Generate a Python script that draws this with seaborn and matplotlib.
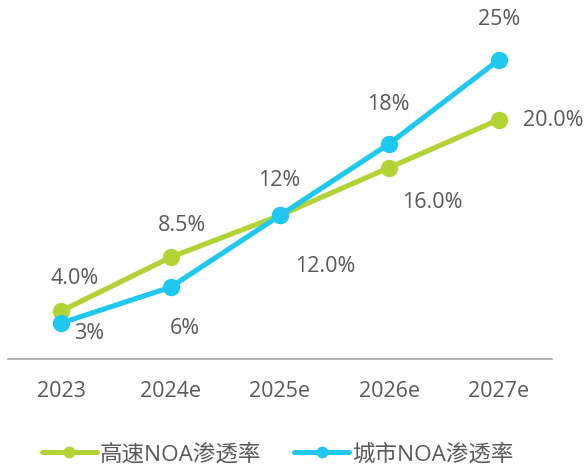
import matplotlib
matplotlib.use('Agg')
import matplotlib.pyplot as plt
from matplotlib.lines import Line2D
import seaborn as sns
import pandas as pd

years = ['2023', '2024e', '2025e', '2026e', '2027e']
highway_noa = [4.0, 8.5, 12.0, 16.0, 20.0]
city_noa = [3, 6, 12, 18, 25]
highway_labels = ['4.0%', '8.5%', '12.0%', '16.0%', '20.0%']
city_labels = ['3%', '6%', '12%', '18%', '25%']
series_names = ['高速NOA渗透率', '城市NOA渗透率']

# label offsets in pixels (dx, dy) from each point
highway_off = [(14, 33), (11, 32), (45, -51), (43, -35), (54, -1)]
city_off = [(28, -10), (14, -41), (-1, 35), (-1, 39), (0, 40)]

green = '#B2D235'
blue = '#1FC8EE'
txt = '#595959'

sns.set_style('white')
plt.rcParams['font.family'] = ['Open Sans', 'Noto Sans CJK SC', 'DejaVu Sans']

df = pd.DataFrame({'year': years * 2,
                   'value': highway_noa + city_noa,
                   'series': [series_names[0]] * 5 + [series_names[1]] * 5})

fig = plt.figure(figsize=(5.86, 4.66), dpi=100)
ax = fig.add_axes([8 / 586, 1 - 359 / 466, 544 / 586, 359 / 466])

sns.lineplot(data=df, x='year', y='value', hue='series', sort=False,
             palette=[green, blue], marker='o', markersize=12.5,
             markeredgewidth=0, linewidth=3.7, legend=False, ax=ax)

for vals, labs, offs in [(highway_noa, highway_labels, highway_off),
                         (city_noa, city_labels, city_off)]:
    for i, (v, lab, (dx, dy)) in enumerate(zip(vals, labs, offs)):
        ax.annotate(lab, (i, v), xytext=(dx, dy), textcoords='offset pixels',
                    ha='center', va='center', fontsize=15.5, color=txt)

ax.set_xlim(-0.485, 4.485)
ax.set_ylim(0, 30)
ax.set_yticks([])
ax.set_xlabel('')
ax.set_ylabel('')
for s in ['top', 'left', 'right']:
    ax.spines[s].set_visible(False)
ax.spines['bottom'].set_color('#A6A6A6')
ax.spines['bottom'].set_linewidth(1.2)
ax.tick_params(axis='x', length=0, pad=16, labelsize=15.5, labelcolor=txt)

handles = [Line2D([], [], color=c, linewidth=3.6, marker='o', markersize=8.5,
                  markeredgewidth=0) for c in (green, blue)]
fig.legend(handles, series_names, loc='center', bbox_to_anchor=(0.4735, 0.025),
           ncol=2, frameon=False, fontsize=16.2, labelcolor=txt,
           handlelength=2.45, handletextpad=0.13, columnspacing=1.47)

fig.savefig('out.png', dpi=100)
